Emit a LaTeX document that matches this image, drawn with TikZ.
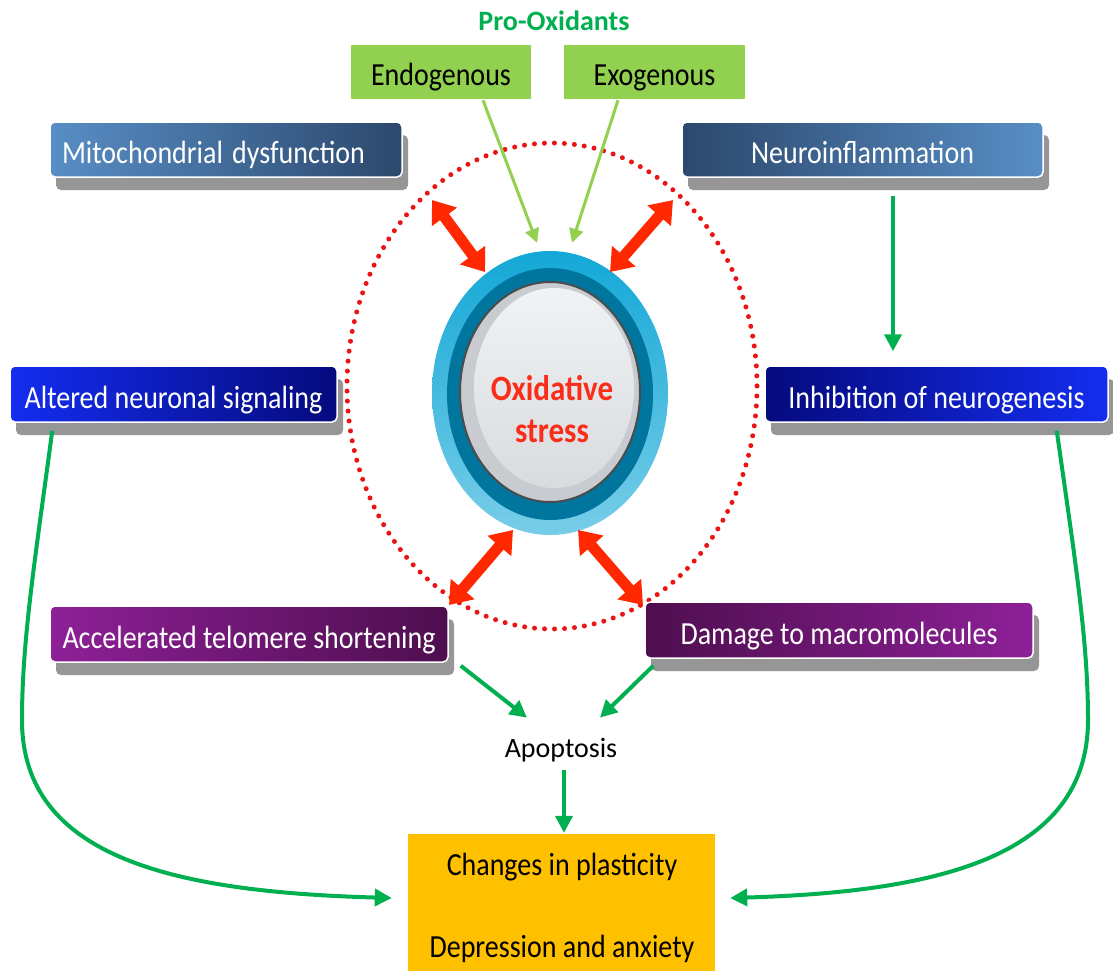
\documentclass[tikz,border=0pt]{standalone}
\usepackage{fontspec}
\setmainfont{Carlito}
\usetikzlibrary{arrows.meta,shadows,calc,shapes.geometric}
\definecolor{gd}{RGB}{0,176,80}
\definecolor{gl}{RGB}{146,208,80}
\definecolor{rd}{RGB}{255,40,0}
\definecolor{dotred}{RGB}{235,20,20}
\definecolor{yel}{RGB}{255,192,0}
\definecolor{shad}{RGB}{150,150,150}
\definecolor{steelL}{RGB}{88,142,198}
\definecolor{steelD}{RGB}{44,72,108}
\definecolor{blueL}{RGB}{20,45,240}
\definecolor{blueD}{RGB}{5,10,125}
\definecolor{purL}{RGB}{142,32,152}
\definecolor{purD}{RGB}{78,14,78}
\definecolor{ringL}{RGB}{20,168,215}
\definecolor{ringLL}{RGB}{120,205,232}
\definecolor{ringD}{RGB}{0,118,158}
\definecolor{innerG}{RGB}{200,204,208}
\definecolor{innerW}{RGB}{240,242,244}
\definecolor{oxred}{RGB}{250,45,25}
\newcommand{\stretchtxt}[1]{\scalebox{1}[1.15]{#1}}
\begin{document}
\begin{tikzpicture}[x=1pt,y=-1pt,
  box/.style={rounded corners=5pt, draw=white, line width=1.5pt, text=white,
    font=\fontsize{28}{32}\selectfont, minimum height=55pt, inner sep=0pt,
    text height=28pt, text depth=0pt,
    drop shadow={shadow xshift=6pt, shadow yshift=-13pt, fill=shad, opacity=1}},
  gbox/.style={fill=gl, text=black, font=\fontsize{28}{32}\selectfont,
    minimum height=54pt, inner sep=0pt, text height=27pt, text depth=0pt},
  garrow/.style={draw=gd, line width=4pt, -{Triangle[length=17pt,width=17pt]}},
  larrow/.style={draw=gl, line width=3pt, -{Triangle[length=14pt,width=14pt]}},
  rarrow/.style={draw=rd, line width=11pt,
    {Triangle[length=21pt,width=30pt]}-{Triangle[length=21pt,width=30pt]}},
  plain/.style={font=\fontsize{28}{32}\selectfont, inner sep=0pt, anchor=base}
]
\useasboundingbox (0,0) rectangle (1113,970);
\fill[white] (0,0) rectangle (1113,970);

% dotted ellipse
\draw[dotred, line width=5pt, line cap=round, dash pattern=on 0pt off 10pt]
  (552,386) ellipse [x radius=205, y radius=243];

% central element
\node[ellipse, minimum width=236pt, minimum height=284pt, inner sep=0pt,
  top color=ringL, bottom color=ringLL] (ox) at (550,393) {};
\node[ellipse, minimum width=206pt, minimum height=252pt, inner sep=0pt,
  fill=ringD] (oxd) at (550,394) {};
\node[ellipse, minimum width=180pt, minimum height=220pt, inner sep=0pt,
  fill=innerG, draw=black!70, line width=2pt] (oxi) at (550,392) {};
\node[ellipse, minimum width=160pt, minimum height=200pt, inner sep=0pt,
  top color=innerW, bottom color=innerG!70!white] (oxc) at (554,388) {};
\node[plain, font=\fontsize{31}{36}\selectfont\bfseries, text=oxred] (ox1) at (552,400) {\stretchtxt{Oxidative}};
\node[plain, font=\fontsize{31}{36}\selectfont\bfseries, text=oxred] (ox2) at (552,442) {\stretchtxt{stress}};

% pro-oxidants
\node[plain, font=\fontsize{28}{32}\selectfont\bfseries, text=gd] (pro) at (554,30) {Pro-Oxidants};
\node[gbox, minimum width=180pt] (endo) at (441,72) {\stretchtxt{Endogenous}};
\node[gbox, minimum width=181pt] (exo) at (654.5,72) {\stretchtxt{Exogenous}};

% red double arrows
\coordinate (r1a) at (432,200); \coordinate (r1b) at (485,272);
\coordinate (r2a) at (673,200); \coordinate (r2b) at (610,272);
\coordinate (r3a) at (449,605); \coordinate (r3b) at (513,530);
\coordinate (r4a) at (643,605); \coordinate (r4b) at (578,530);
\draw[rarrow] (r1a) -- (r1b);
\draw[rarrow] (r2a) -- (r2b);
\draw[rarrow] (r3a) -- (r3b);
\draw[rarrow] (r4a) -- (r4b);

% light green arrows
\draw[larrow] ($(endo.south)+(42,1)$) -- ($(ox.north)+(-13,-8)$);
\draw[larrow] ($(exo.south)+(-36.5,1)$) -- ($(ox.north)+(22,-8)$);

% boxes
\node[box, left color=steelL, right color=steelD, minimum width=352pt,
  text width=328pt, align=left] (mito) at (226,149.5) {\stretchtxt{Mitochondrial dysfunction}};
\node[box, left color=steelD, right color=steelL, minimum width=361pt] (neuro) at (862.5,149.5) {\stretchtxt{Neuroinflammation}};
\node[box, left color=blueL, right color=blueD, minimum width=327pt, minimum height=56pt] (alt) at (173.5,394) {\stretchtxt{Altered neuronal signaling}};
\node[box, left color=blueD, right color=blueL, minimum width=343pt, minimum height=56pt] (inhib) at (936.5,394) {\stretchtxt{Inhibition of neurogenesis}};
\node[box, left color=purL, right color=purD, minimum width=398pt, minimum height=56pt] (telo) at (249,634) {\stretchtxt{Accelerated telomere shortening}};
\node[box, left color=purD, right color=purL, minimum width=388pt, minimum height=56pt] (dam) at (839,630) {\stretchtxt{Damage to macromolecules}};

% apoptosis and outcome
\node[plain] (apo) at (561,757) {Apoptosis};
\node[fill=yel, minimum width=307pt, minimum height=140pt, inner sep=0pt] (out) at (561.5,904) {};
\node[plain] (ch1) at (562,875) {\stretchtxt{Changes in plasticity}};
\node[plain] (ch2) at (562,957) {\stretchtxt{Depression and anxiety}};

% green arrows
\draw[garrow] ($(neuro.south)+(30.5,18)$) -- ($(inhib.north)+(-43.5,-14)$);
\draw[garrow] ($(telo.south east)+(12,3)$) -- ($(apo.center)+(-34,-32)$);
\draw[garrow] ($(dam.south west)+(9,7)$) -- ($(apo.center)+(39,-32)$);
\draw[garrow] ($(apo.south)+(3,8)$) -- ($(out.north)+(2.5,-1)$);
\draw[garrow] ($(alt.south west)+(43,8)$) .. controls (35,560) and (22,640) .. (22,720)
  .. controls (22,860) and (180,892) .. ($(out.west)+(-16,-6)$);
\draw[garrow] ($(inhib.south east)+(-52,8)$) .. controls (1075,560) and (1088,640) .. (1088,720)
  .. controls (1088,860) and (930,892) .. ($(out.east)+(15,-6)$);
\end{tikzpicture}
\end{document}
